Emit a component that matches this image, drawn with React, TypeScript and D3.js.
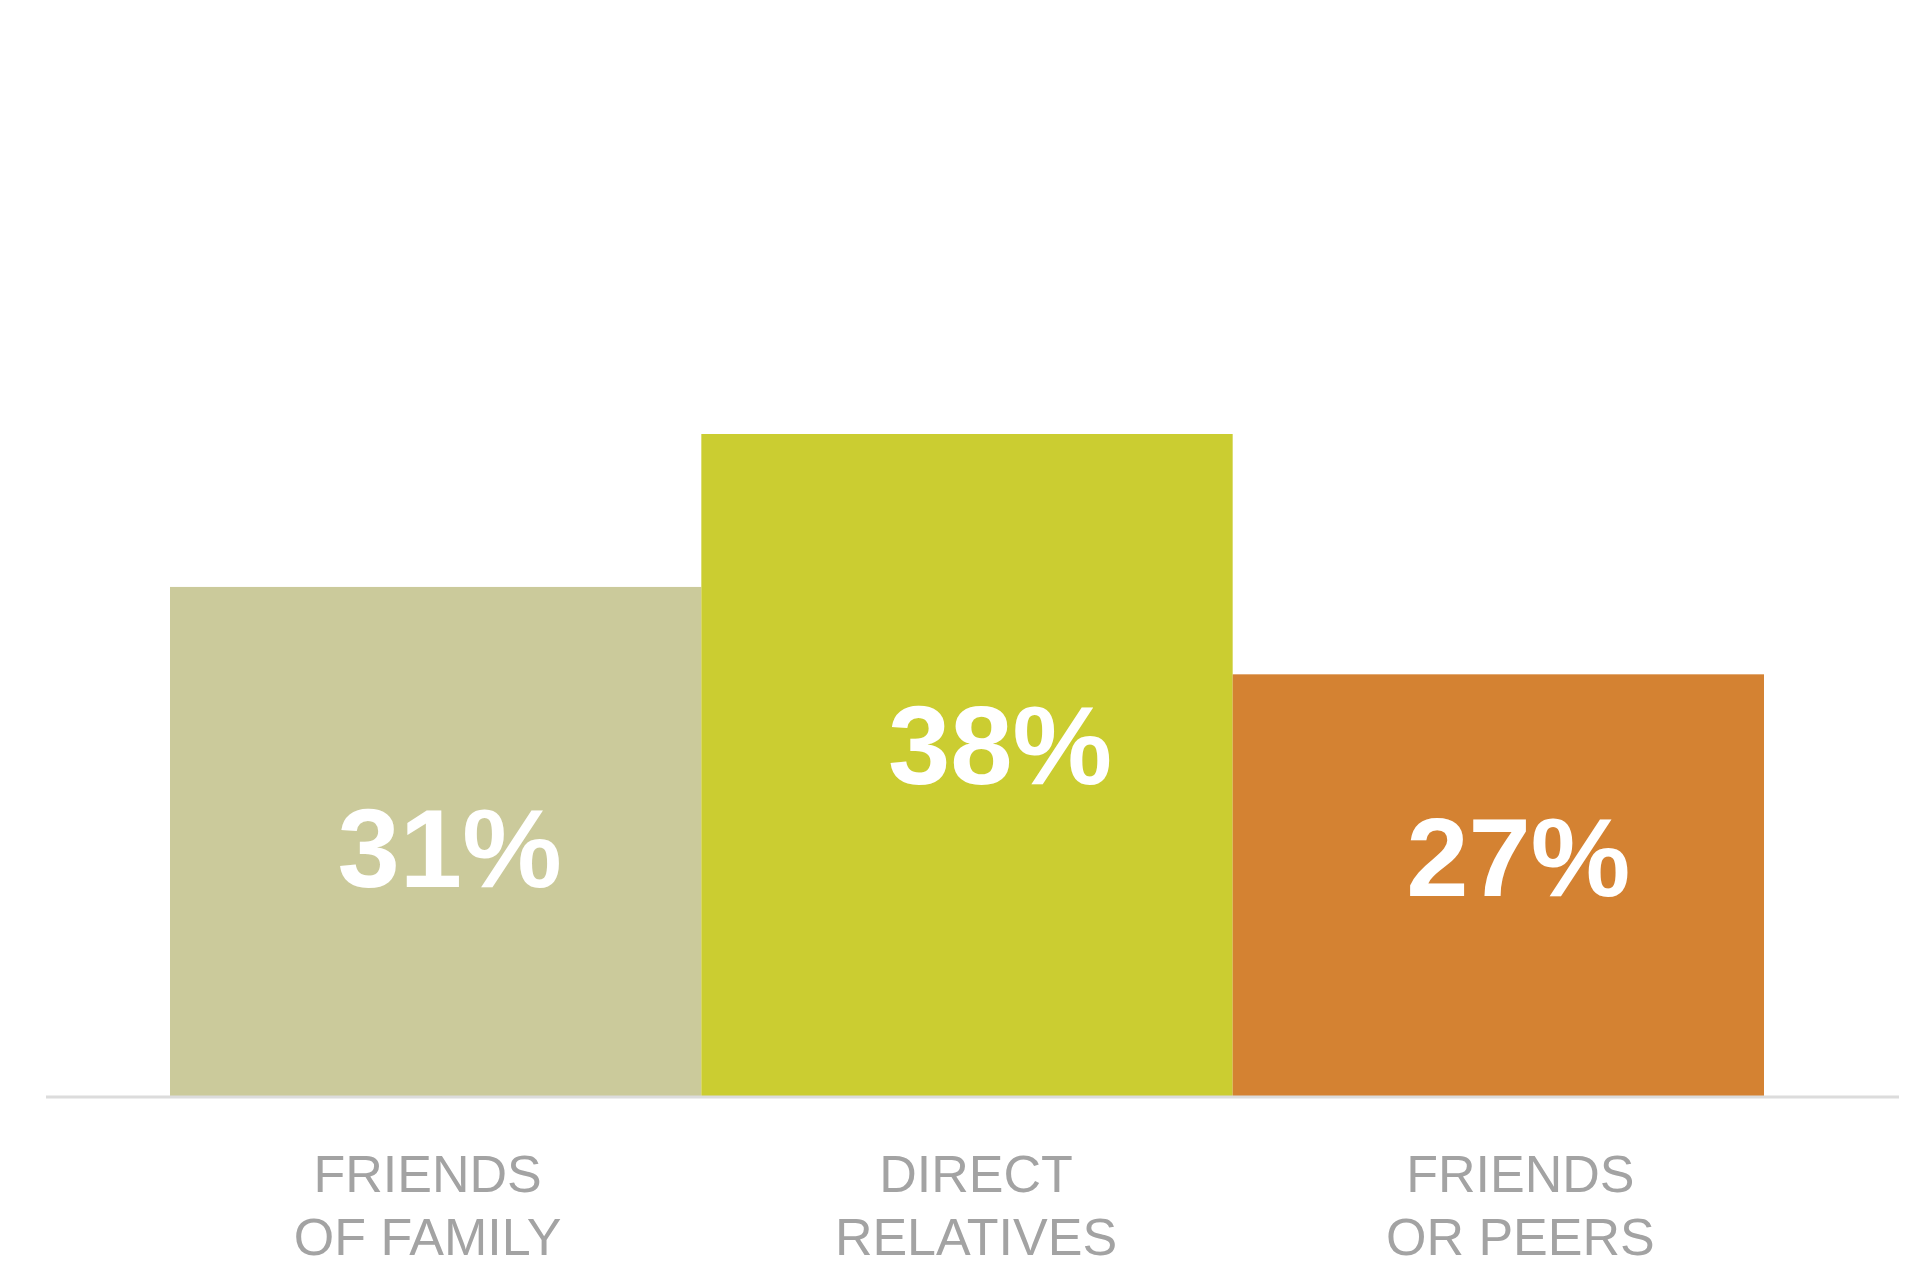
import React from "react";
import * as d3 from "d3";

const categories = ["FRIENDS OF FAMILY", "DIRECT RELATIVES", "FRIENDS OR PEERS"];
const labelLines = [["FRIENDS", "OF FAMILY"], ["DIRECT", "RELATIVES"], ["FRIENDS", "OR PEERS"]];
const values = [31, 38, 27];
const colors = ["#cbca9b", "#cbcd31", "#d48232"];

const W = 1906;
const H = 1269;
const baseY = 1096;

export default function App() {
  const x = d3.scaleBand<string>().domain(categories).range([170, 1764]).padding(0);
  const y = d3.scaleLinear().domain([7.7, 38]).range([baseY, 434]);
  const valueDx = [14, 33, 20];
  const valueBase = [0.589, 0.529, 0.525];
  const labelDx = [-8, 9, 22];

  return (
    <svg
      width={W}
      height={H}
      style={{ position: "absolute", left: 0, top: 0, background: "#ffffff" }}
    >
      <rect x={0} y={0} width={W} height={H} fill="#ffffff" />
      {categories.map((c, i) => (
        <rect
          key={c}
          x={x(c)!}
          y={y(values[i])}
          width={x.bandwidth()}
          height={baseY - y(values[i])}
          fill={colors[i]}
        />
      ))}
      <line x1={46} x2={1899} y1={baseY + 1} y2={baseY + 1} stroke="#dcdcdc" strokeWidth={3} />
      {categories.map((c, i) => {
        const top = y(values[i]);
        const by = top + (baseY - top) * valueBase[i];
        return (
          <text
            key={c + "v"}
            x={x(c)! + x.bandwidth() / 2 + valueDx[i]}
            y={by}
            textAnchor="middle"
            fill="#ffffff"
            fontFamily="'Liberation Sans', Arial, sans-serif"
            fontWeight="bold"
            fontSize={112}
          >
            {values[i]}%
          </text>
        );
      })}
      {categories.map((c, i) => {
        const cx = x(c)! + x.bandwidth() / 2 + labelDx[i];
        return (
          <text
            key={c + "l"}
            x={cx}
            textAnchor="middle"
            fill="#a3a3a3"
            fontFamily="'Liberation Sans', Arial, sans-serif"
            fontSize={52}
          >
            {labelLines[i].map((t, j) => (
              <tspan key={t} x={cx} y={1192 + j * 63}>
                {t}
              </tspan>
            ))}
          </text>
        );
      })}
    </svg>
  );
}
